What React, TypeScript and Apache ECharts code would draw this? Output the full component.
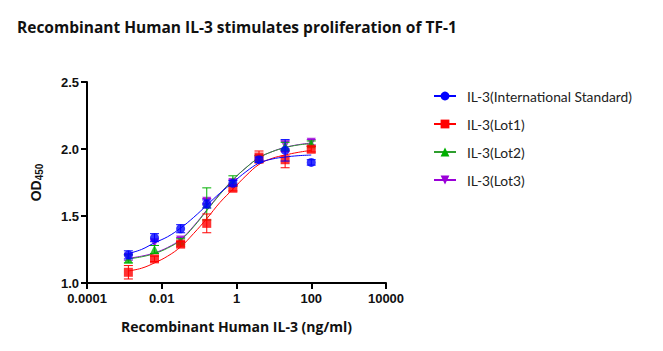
import React, { useEffect, useRef } from "react";
import * as echarts from "echarts";

const doses = [0.00128, 0.0064, 0.032, 0.16, 0.8, 4, 20, 100];

const isValues = [1.21, 1.338, 1.405, 1.59, 1.744, 1.92, 1.99, 1.90];
const isErr = [0.03, 0.03, 0.03, 0.03, 0.02, 0.02, 0.08, 0.02];
const lot1Values = [1.08, 1.18, 1.29, 1.445, 1.707, 1.94, 1.92, 1.998];
const lot1Err = [0.05, 0.02, 0.02, 0.07, 0.02, 0.045, 0.06, 0.02];
const lot2Values = [1.18, 1.25, 1.31, 1.59, 1.76, 1.93, 2.02, 2.04];
const lot2Err = [0.03, 0.03, 0.02, 0.12, 0.04, 0.02, 0.03, 0.02];
const lot3Values = [1.19, 1.30, 1.32, 1.61, 1.75, 1.93, 2.03, 2.05];
const lot3Err = [0.02, 0.02, 0.02, 0.02, 0.02, 0.02, 0.03, 0.02];

// fitted curves at sample doses
const curveDoses = [0.00128, 0.00286, 0.0064, 0.0143, 0.032, 0.0716, 0.16, 0.358, 0.8, 1.79, 4, 8.94, 20, 44.7, 100];
const isCurve = [1.22, 1.25, 1.30, 1.345, 1.41, 1.49, 1.58, 1.67, 1.75, 1.83, 1.895, 1.925, 1.94, 1.95, 1.955];
const lot1Curve = [1.09, 1.11, 1.15, 1.20, 1.27, 1.37, 1.48, 1.60, 1.70, 1.80, 1.885, 1.93, 1.955, 1.975, 1.99];
const lot2Curve = [1.18, 1.195, 1.22, 1.26, 1.32, 1.42, 1.54, 1.66, 1.77, 1.86, 1.935, 1.98, 2.01, 2.03, 2.04];
const lot3Curve = [1.185, 1.20, 1.225, 1.265, 1.325, 1.425, 1.545, 1.665, 1.77, 1.86, 1.935, 1.98, 2.012, 2.032, 2.045];

const xTickLabels: Record<string, string> = {
  "0.0001": "0.0001",
  "0.01": "0.01",
  "1": "1",
  "100": "100",
  "10000": "10000",
};

const groups = [
  { name: "IL-3(International Standard)", values: isValues, err: isErr, curve: isCurve, color: "#0000ff", line: "#0000ff", symbol: "circle", rotate: 0, size: 9 },
  { name: "IL-3(Lot1)", values: lot1Values, err: lot1Err, curve: lot1Curve, color: "#ff0000", line: "#ff0000", symbol: "rect", rotate: 0, size: 9 },
  { name: "IL-3(Lot2)", values: lot2Values, err: lot2Err, curve: lot2Curve, color: "#00b000", line: "#2e9e2e", symbol: "triangle", rotate: 0, size: 9 },
  { name: "IL-3(Lot3)", values: lot3Values, err: lot3Err, curve: lot3Curve, color: "#9a00d8", line: "#9a00d8", symbol: "triangle", rotate: 180, size: 9 },
];

export default function App() {
  const ref = useRef<HTMLDivElement>(null);
  useEffect(() => {
    if (!ref.current) return;
    const chart = echarts.init(ref.current, null, { renderer: "svg" });
    const series: any[] = [];
    const order = [3, 2, 1, 0];
    order.forEach((gi, k) => {
      const g = groups[gi];
      series.push({
        name: g.name,
        type: "line",
        smooth: 0.4,
        data: curveDoses.map((d, i) => [d, g.curve[i]]),
        showSymbol: false,
        symbol: g.symbol,
        symbolRotate: g.rotate,
        lineStyle: { color: g.line, width: 1 },
        itemStyle: { color: g.color },
        z: 2 + k * 3,
        silent: true,
      });
      series.push({
        type: "custom",
        data: doses.map((d, i) => [d, g.values[i] - g.err[i], g.values[i] + g.err[i]]),
        encode: { x: 0, y: [1, 2] },
        z: 3 + k * 3,
        silent: true,
        renderItem: (params: any, api: any) => {
          const x = api.value(0);
          const lo = api.coord([x, api.value(1)]);
          const hi = api.coord([x, api.value(2)]);
          const hw = 4.5;
          const st = { stroke: g.color, lineWidth: 1 };
          return {
            type: "group",
            children: [
              { type: "line", shape: { x1: lo[0], y1: lo[1], x2: hi[0], y2: hi[1] }, style: st },
              { type: "line", shape: { x1: lo[0] - hw, y1: lo[1], x2: lo[0] + hw, y2: lo[1] }, style: st },
              { type: "line", shape: { x1: hi[0] - hw, y1: hi[1], x2: hi[0] + hw, y2: hi[1] }, style: st },
            ],
          };
        },
      });
      series.push({
        name: g.name,
        type: "scatter",
        data: doses.map((d, i) => [d, g.values[i]]),
        symbol: g.symbol,
        symbolRotate: g.rotate,
        symbolSize: g.size,
        itemStyle: { color: g.color },
        z: 4 + k * 3,
        silent: true,
      });
    });

    chart.setOption({
      animation: false,
      title: {
        text: "Recombinant Human IL-3 stimulates proliferation of TF-1",
        left: 12,
        top: 14,
        textStyle: { fontFamily: "Open Sans", fontWeight: "bold", fontSize: 15.5, color: "#111" },
      },
      legend: {
        data: groups.map((g) => g.name),
        orient: "vertical",
        left: 433,
        top: 89,
        padding: 0,
        itemWidth: 22,
        itemHeight: 11,
        itemGap: 14,
        textStyle: { fontFamily: "Lato", fontSize: 13.8, color: "#222", padding: [0, 0, 0, 6] },
        selectedMode: false,
      },
      grid: { left: 87, top: 82, right: 277, bottom: 68, containLabel: false },
      xAxis: {
        type: "log",
        logBase: 10,
        min: 0.0001,
        max: 10000,
        interval: 2,
        name: "Recombinant Human IL-3 (ng/ml)",
        nameLocation: "middle",
        nameGap: 36,
        nameTextStyle: { fontFamily: "Open Sans", fontWeight: "bold", fontSize: 14, color: "#111" },
        axisLine: { lineStyle: { color: "#000", width: 2 } },
        axisTick: { length: 6, lineStyle: { color: "#000", width: 2 } },
        axisLabel: {
          fontFamily: "Liberation Sans",
          fontWeight: "bold",
          fontSize: 13,
          color: "#111",
          margin: 9,
          formatter: (v: number) => {
            const k = String(+v.toPrecision(6));
            return xTickLabels[k] ?? k;
          },
        },
        splitLine: { show: false },
        minorTick: { show: false },
      },
      yAxis: {
        type: "value",
        min: 1,
        max: 2.5,
        interval: 0.5,
        name: "OD{sub|450}",
        nameLocation: "middle",
        nameRotate: 90,
        nameGap: 43,
        nameTextStyle: {
          fontFamily: "Liberation Sans",
          fontWeight: "bold",
          fontSize: 14,
          color: "#111",
          rich: { sub: { fontFamily: "Liberation Sans", fontWeight: "bold", fontSize: 10, color: "#111", padding: [7, 0, 0, 0] } },
        },
        axisLine: { show: true, lineStyle: { color: "#000", width: 2 } },
        axisTick: { show: true, length: 6, lineStyle: { color: "#000", width: 2 } },
        axisLabel: {
          fontFamily: "Liberation Sans",
          fontWeight: "bold",
          fontSize: 13,
          color: "#111",
          margin: 8,
          formatter: (v: number) => v.toFixed(1),
        },
        splitLine: { show: false },
      },
      series,
    });
    return () => chart.dispose();
  }, []);
  return <div ref={ref} style={{ width: 663, height: 351, position: "absolute", left: 0, top: 0, background: "#fff" }} />;
}
